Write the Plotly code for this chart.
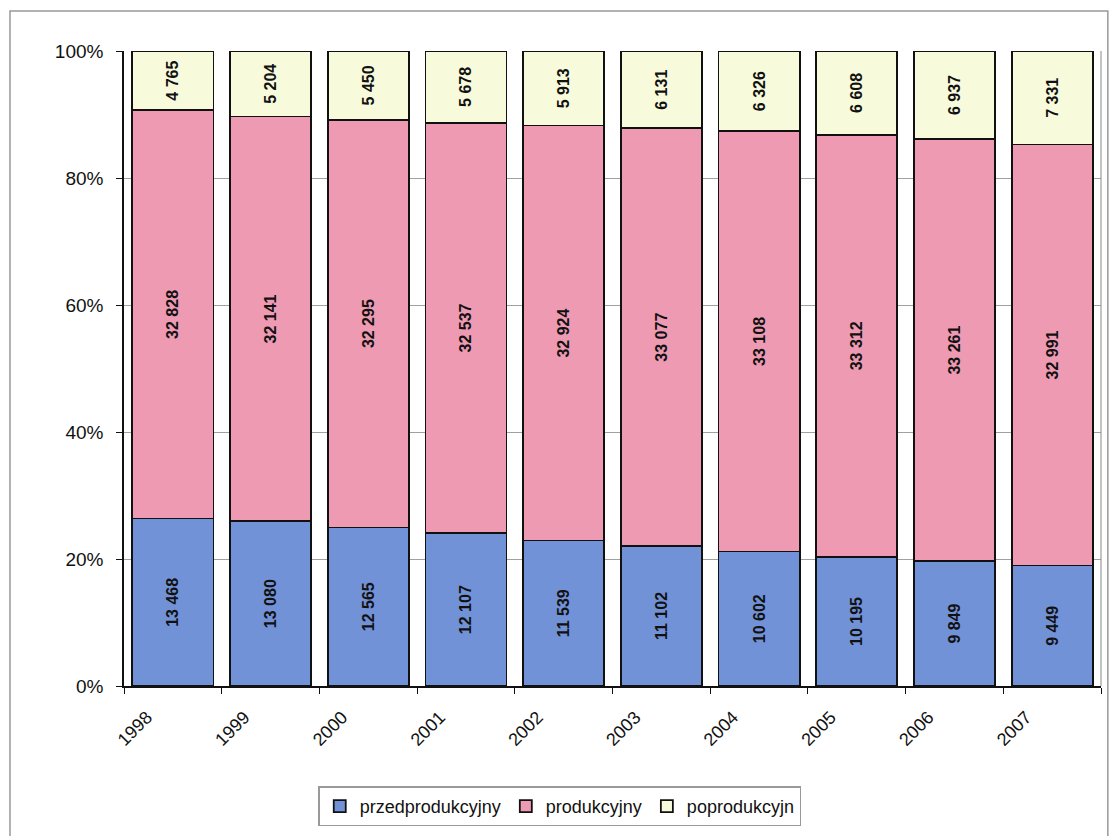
import plotly.graph_objects as go

years = ["1998", "1999", "2000", "2001", "2002", "2003", "2004", "2005", "2006", "2007"]
przed = [13468, 13080, 12565, 12107, 11539, 11102, 10602, 10195, 9849, 9449]
prod = [32828, 32141, 32295, 32537, 32924, 33077, 33108, 33312, 33261, 32991]
poprod = [4765, 5204, 5450, 5678, 5913, 6131, 6326, 6608, 6937, 7331]
y_ticks = [0, 20, 40, 60, 80, 100]

names = ["przedprodukcyjny", "produkcyjny", "poprodukcyjn"]
colors = ["#7292D8", "#EE9AB3", "#F8FADC"]


def fmt(v):
    return f"{v:,}".replace(",", " ")


fig = go.Figure()
for name, vals, col in zip(names, [przed, prod, poprod], colors):
    fig.add_trace(go.Bar(
        x=years, y=vals, name=name,
        marker=dict(color=col, line=dict(color="#111111", width=1.8)),
        text=[f"<b>{fmt(v)}</b>" for v in vals], textposition="inside",
        insidetextanchor="middle", textangle=-90,
        textfont=dict(family="Arial, Liberation Sans", size=16, color="#111111"),
        constraintext="none",
        hoverinfo="skip",
    ))

fig.update_layout(
    width=1111, height=836,
    barmode="stack", barnorm="percent", bargap=0.17,
    plot_bgcolor="white", paper_bgcolor="white",
    margin=dict(l=124, r=10, t=51, b=148),
    font=dict(family="Arial, Liberation Sans", color="#111111"),
    legend=dict(
        orientation="h", x=0.446, xanchor="center", y=-0.158, yanchor="top",
        bordercolor="#999999", borderwidth=1.5,
        font=dict(size=18, family="Arial, Liberation Sans"),
        traceorder="normal", itemwidth=30,
    ),
    showlegend=True,
)
fig.update_yaxes(
    range=[0, 100], tickvals=y_ticks, ticktext=[f"{v}%" for v in y_ticks],
    showgrid=True, gridcolor="#A0A0A0", gridwidth=1,
    showline=True, linecolor="#111111", linewidth=1.5,
    ticks="outside", ticklen=6, tickcolor="#111111",
    tickfont=dict(size=19), zeroline=False, ticklabelstandoff=9,
)
fig.update_xaxes(
    showline=True, linecolor="#111111", linewidth=1.5,
    ticks="outside", ticklen=6, tickcolor="#111111", tickson="boundaries",
    tickangle=-45, tickfont=dict(size=18),
    ticklabelshift=-26, ticklabelstandoff=12,
)
# outer chart frame
fig.add_shape(type="rect", xref="paper", yref="paper",
              x0=-0.1167, x1=1.007, y0=-0.26, y1=1.063,
              line=dict(color="#999999", width=1.5), layer="below")
# right plot-area edge
fig.add_shape(type="line", xref="paper", yref="paper",
              x0=1, x1=1, y0=0, y1=1,
              line=dict(color="#888888", width=1))

fig.write_html("out.html", config={"displayModeBar": False},
               post_script="document.body.style.margin='0px';")
